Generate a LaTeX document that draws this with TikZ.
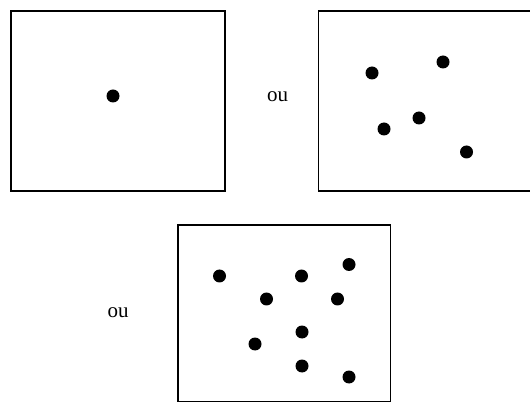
\documentclass[tikz,border=0pt]{standalone}
\usepackage{fontspec}
\setmainfont{Liberation Serif}
\begin{document}
\begin{tikzpicture}[x=1pt,y=-1pt,
  frame/.style={draw=black,line width=1.5pt},
  dot/.style={circle,fill=black,inner sep=0pt,minimum size=13pt},
  lab/.style={font=\fontsize{21}{24}\selectfont,inner sep=0pt}]
\useasboundingbox (0,0) rectangle (530,403);
\draw[frame] (11,11) rectangle (225,191);
\draw[frame] (318.5,11) rectangle (545,191);
\draw[frame] (178,225) rectangle (390.5,401.5);
\node[dot] (a1) at (113,96) {};
\node[dot] (b1) at (372,73) {};
\node[dot] (b2) at (443,62) {};
\node[dot] (b3) at (384,129) {};
\node[dot] (b4) at (419,118) {};
\node[dot] (b5) at (466.5,152) {};
\node[dot] (c1) at (219.5,276) {};
\node[dot] (c2) at (301.5,276) {};
\node[dot] (c3) at (349,264.5) {};
\node[dot] (c4) at (266.5,299) {};
\node[dot] (c5) at (337.5,299) {};
\node[dot] (c6) at (302,332) {};
\node[dot] (c7) at (255,344) {};
\node[dot] (c8) at (302,366) {};
\node[dot] (c9) at (349,377) {};
\node[lab,anchor=base] (ou1) at (277.5,102) {ou};
\node[lab,anchor=base] (ou2) at (118,317) {ou};
\end{tikzpicture}
\end{document}
